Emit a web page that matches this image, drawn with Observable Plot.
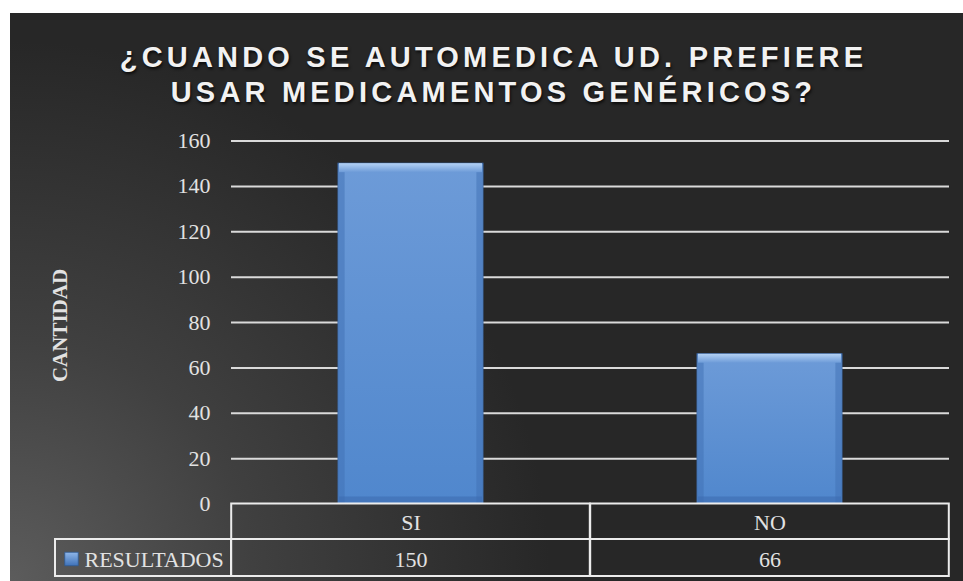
<!DOCTYPE html>
<html>
<head>
<meta charset="utf-8">
<script src="https://cdn.jsdelivr.net/npm/d3@7"></script>
<script src="https://cdn.jsdelivr.net/npm/@observablehq/plot@0.6"></script>
<style>
  html, body { margin: 0; padding: 0; background: #ffffff; }
  #page { position: relative; width: 963px; height: 581px; overflow: hidden; background: #ffffff; }
  #panel { position: absolute; left: 10px; top: 13px; width: 953px; height: 568px;
    background: radial-gradient(circle 540px at 0% 100%, #5c5c5c 0%, #404040 45%, #272727 100%); }
  #title { position: absolute; left: 7px; top: 27px; width: 953px; text-align: center;
    font-family: "Liberation Sans", Arial, sans-serif; font-weight: bold; font-size: 29px;
    line-height: 35px; letter-spacing: 4.2px; color: #f2f2f2;
    text-shadow: 1px 2px 3px rgba(0,0,0,0.75); }
  #chart { position: absolute; left: 0; top: 120px; }
</style>
</head>
<body>
<div id="page">
  <div id="panel">
    <div id="title">¿CUANDO SE AUTOMEDICA UD. PREFIERE<br>USAR MEDICAMENTOS GENÉRICOS?</div>
  </div>
  <div id="chart"></div>
</div>
<script>
// ---- data ----
const categories = ["SI", "NO"];
const values = [150, 66];
const seriesName = "RESULTADOS";
const yTicks = [0, 20, 40, 60, 80, 100, 120, 140, 160];
const yLabel = "CANTIDAD";

const data = categories.map((c, i) => ({cat: c, value: values[i]}));

// ---- layout ----
const W = 963, H = 461;
const mL = 231, mR = 14, mT = 20.5, mB = 77.5;
const pInner = 0.595, pOuter = pInner / 2;
const innerW = W - mL - mR;
const step = innerW / (categories.length - pInner + 2 * pOuter);
const bw = step * (1 - pInner);
const cellInset = -(step - bw) / 2;
const row1 = 35.5, row2 = 72.5;
const legendLeft = 55;
const lineColor = "#ececec";
const txt = "#e2e2e2";

const chart = Plot.plot({
  width: W,
  height: H,
  marginLeft: mL,
  marginRight: mR,
  marginTop: mT,
  marginBottom: mB,
  style: {background: "transparent", color: txt, fontFamily: "'Liberation Serif', serif", fontSize: "22px", overflow: "visible"},
  x: {domain: categories, paddingInner: pInner, paddingOuter: pOuter, axis: null},
  y: {domain: [0, 160], ticks: yTicks, tickSize: 0, tickPadding: 21, label: null, tickFormat: d => String(d)},
  marks: [
    Plot.gridY(yTicks.filter(d => d > 0), {stroke: "#dadada", strokeOpacity: 1, strokeWidth: 2}),
    Plot.axisY({ticks: yTicks, tickSize: 0, tickPadding: 21, label: null, fontSize: 22, fill: txt}),
    // bars
    Plot.barY(data, {x: "cat", y: "value", fill: "url(#barGrad)", stroke: "#3a66a3", strokeWidth: 1}),
    // top bevel
    Plot.barY(data, {x: "cat", y1: "value", y2: "value", insetBottom: -9, insetLeft: 1, insetRight: 1, fill: "url(#bevelTop)"}),
    // side shading
    Plot.barY(data, {x: "cat", y1: 0, y2: "value", insetTop: 9, insetRight: bw - 7, insetLeft: 1, fill: "#3f70b3", fillOpacity: 0.5}),
    Plot.barY(data, {x: "cat", y1: 0, y2: "value", insetTop: 9, insetLeft: bw - 7, insetRight: 1, fill: "#3f70b3", fillOpacity: 0.5}),
    Plot.barY(data, {x: "cat", y1: 0, y2: 0, insetTop: -7, insetBottom: 1, insetLeft: 1, insetRight: 1, fill: "#3d6db0", fillOpacity: 0.6}),
    // data table
    Plot.barY(data, {x: "cat", y1: d => 0, y2: d => 0, insetTop: 0, insetBottom: -row1, insetLeft: cellInset, insetRight: cellInset, fill: "none", stroke: lineColor, strokeWidth: 2}),
    Plot.barY(data, {x: "cat", y1: d => 0, y2: d => 0, insetTop: row1, insetBottom: -row2, insetLeft: cellInset, insetRight: cellInset, fill: "none", stroke: lineColor, strokeWidth: 2}),
    Plot.rect([0], {y1: d => d, y2: d => d, insetTop: row1, insetBottom: -row2, insetLeft: -(mL - legendLeft), insetRight: innerW, fill: "none", stroke: lineColor, strokeWidth: 2}),
    Plot.text(data, {x: "cat", text: "cat", frameAnchor: "bottom", dy: 19, lineAnchor: "middle", fill: txt, fontSize: 22}),
    Plot.text(data, {x: "cat", text: d => String(d.value), frameAnchor: "bottom", dy: 56, lineAnchor: "middle", fill: txt, fontSize: 22}),
    Plot.text([seriesName], {text: d => d, frameAnchor: "bottom-left", textAnchor: "start", dx: 84 - mL, dy: 56, lineAnchor: "middle", fill: txt, fontSize: 22}),
    Plot.dot([seriesName], {frameAnchor: "bottom-left", dx: 71 - mL, dy: 55, symbol: "square", r: 7.6, fill: "url(#legGrad)", stroke: "#2e5a96", strokeWidth: 0.8}),
    // y axis title
    Plot.text([yLabel], {text: d => d, frameAnchor: "left", textAnchor: "middle", rotate: -90, dx: 60 - mL, dy: 3, fontWeight: "bold", fontSize: 21, fill: txt})
  ]
});

// gradient defs
const defs = d3.select(chart).insert("defs", ":first-child");
const g1 = defs.append("linearGradient").attr("id", "barGrad").attr("x1", 0).attr("y1", 0).attr("x2", 0).attr("y2", 1);
g1.append("stop").attr("offset", "0%").attr("stop-color", "#6d9bd8");
g1.append("stop").attr("offset", "100%").attr("stop-color", "#5087cd");
const g2 = defs.append("linearGradient").attr("id", "bevelTop").attr("x1", 0).attr("y1", 0).attr("x2", 0).attr("y2", 1);
g2.append("stop").attr("offset", "0%").attr("stop-color", "#b4d2f5");
g2.append("stop").attr("offset", "100%").attr("stop-color", "#6d9bd8");
const g3 = defs.append("linearGradient").attr("id", "legGrad").attr("x1", 0).attr("y1", 0).attr("x2", 0).attr("y2", 1);
g3.append("stop").attr("offset", "0%").attr("stop-color", "#8fb6e8");
g3.append("stop").attr("offset", "100%").attr("stop-color", "#3f72b8");

document.getElementById("chart").appendChild(chart);
</script>
</body>
</html>
